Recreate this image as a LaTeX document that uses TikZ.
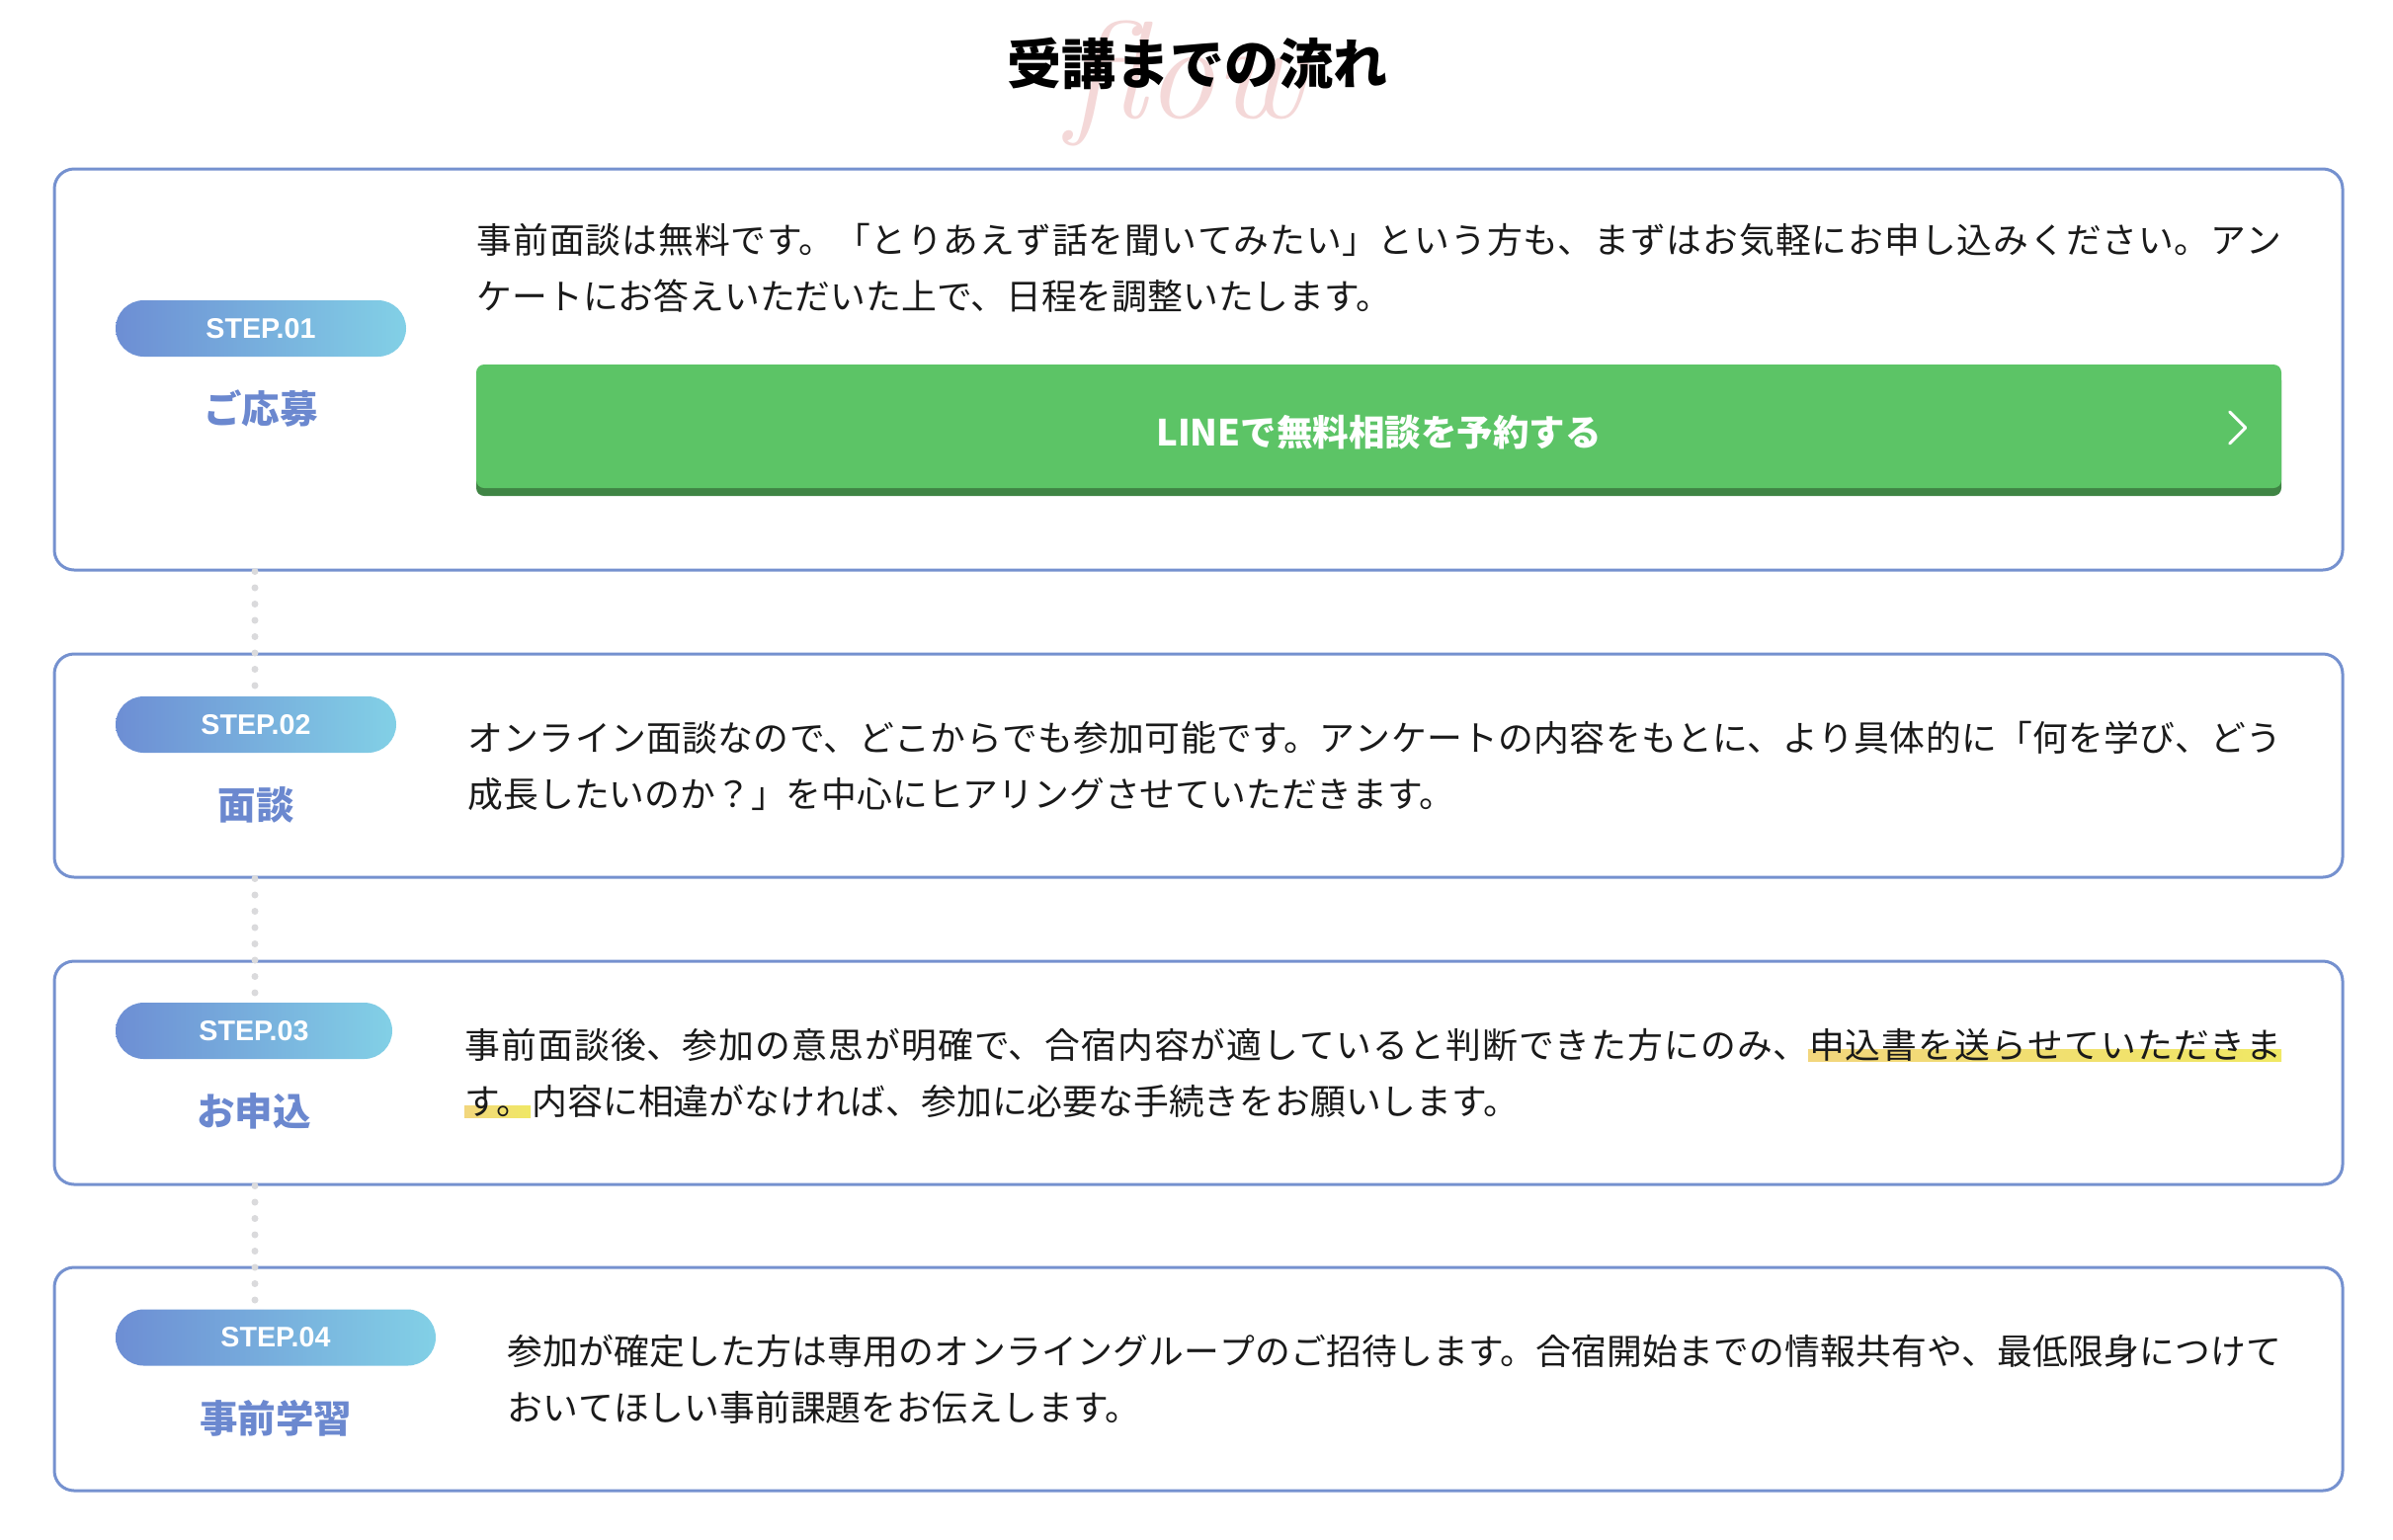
\documentclass[tikz,border=0pt]{standalone}
\usepackage{fontspec}
\usepackage{xcolor}
\usepackage{tikz}
\usetikzlibrary{positioning,shadows}
\setmainfont{Noto Sans CJK JP}
\newfontfamily\stepfont{Liberation Sans}
\newfontfamily\flowfont{Latin Modern Roman}
\XeTeXlinebreaklocale "ja"
\XeTeXlinebreakskip=0pt plus 1pt

\definecolor{cardblue}{RGB}{117,145,207}
\definecolor{badgeleft}{RGB}{109,142,212}
\definecolor{badgeright}{RGB}{130,208,230}
\definecolor{labelblue}{RGB}{107,136,207}
\definecolor{bodyblack}{RGB}{26,26,26}
\definecolor{dotgray}{RGB}{218,218,220}
\definecolor{linegreen}{RGB}{92,196,102}
\definecolor{linedark}{RGB}{63,132,68}
\definecolor{flowpink}{RGB}{244,216,216}
\definecolor{hlleft}{RGB}{242,214,125}
\definecolor{hlright}{RGB}{240,232,100}

\tikzset{
    card/.style={draw=cardblue, line width=0.9pt, rounded corners=6pt,
        minimum width=694.8pt, minimum height=#1, inner sep=0pt},
    badge/.style={left color=badgeleft, right color=badgeright,
        rounded corners=8.55pt, minimum width=#1, minimum height=17.1pt,
        inner sep=0pt, text=white, font=\stepfont\bfseries\fontsize{8.6}{8.6}\selectfont},
    steplabel/.style={anchor=base, inner sep=0pt, text=labelblue,
        font=\bfseries\fontsize{11.55}{13}\selectfont},
    bodytext/.style={anchor=base west, align=justify, text width=#1,
        inner sep=0pt, text=bodyblack, font=\fontsize{10.74}{17.1}\selectfont},
    dotline/.style={draw=dotgray, line width=2.1pt, line cap=round,
        dash pattern=on 0pt off 4.95pt},
    linebtn/.style={fill=linegreen, rounded corners=2.4pt, minimum width=548.1pt,
        minimum height=37.5pt, inner sep=0pt,
        drop shadow={shadow xshift=0pt, shadow yshift=-2.4pt, opacity=1, fill=linedark}},
    btntext/.style={inner sep=0pt, text=white, font=\bfseries\fontsize{10.95}{11}\selectfont},
    hlband/.style={left color=hlleft, right color=hlright}
}

\begin{document}
\begin{tikzpicture}[x=0.3pt, y=-0.3pt]
\useasboundingbox[fill=white] (0,0) rectangle (2422,1558);

% heading
\node[text=flowpink, font=\flowfont\itshape\fontsize{42}{42}\selectfont] (flow) at (1200,84) {flow};
\node[font=\bfseries\fontsize{16.5}{16.5}\selectfont] (title) at (1212,64) {受講までの流れ};

\coordinate (spine) at (258,0);

% cards
\node[card=121.8pt] (card1) at (1213,374) {};
\node[card=67.8pt] (card2) at (1213,775) {};
\node[card=67.8pt] (card3) at (1213,1086) {};
\node[card=67.8pt] (card4) at (1213,1396) {};

% badges
\node[badge=88.2pt] (badge1) at (264,332.5) {STEP.01};
\node[badge=85.2pt] (badge2) at (259,733.5) {STEP.02};
\node[badge=84pt] (badge3) at (257,1043.5) {STEP.03};
\node[badge=97.2pt] (badge4) at (279,1354) {STEP.04};

\draw[dotline] (card1.south -| spine) -- ([yshift=2pt]badge2.north -| spine);
\draw[dotline] (card2.south -| spine) -- ([yshift=2pt]badge3.north -| spine);
\draw[dotline] (card3.south -| spine) -- ([yshift=2pt]badge4.north -| spine);

\node[steplabel] (label1) at ([yshift=-20.1pt]badge1.south) {ご応募};
\node[steplabel] (label2) at ([yshift=-20.1pt]badge2.south) {面談};
\node[steplabel] (label3) at ([yshift=-20.1pt]badge3.south) {お申込};
\node[steplabel] (label4) at ([yshift=-20.1pt]badge4.south) {事前学習};

% texts
\node[bodytext=548.1pt] (text1) at (482,256) {事前面談は無料です。「とりあえず話を聞いてみたい」という方も、まずはお気軽にお申し込みください。アン\linebreak ケートにお答えいただいた上で、日程を調整いたします。};

\node[linebtn] (btn) at (1395.5,431.5) {};
\node[btntext] (btnlabel) at ([yshift=-1.8pt]btn.center) {LINEで無料相談を予約する};
\coordinate (chev) at ([xshift=-11.1pt, yshift=-0.45pt]btn.east);
\draw[white, line width=0.9pt, line cap=round, line join=round] ([shift={(-16,-16)}]chev) -- (chev) -- ([shift={(-16,16)}]chev);

\node[bodytext=550.8pt] (text2) at (473,760) {オンライン面談なので、どこからでも参加可能です。アンケートの内容をもとに、より具体的に「何を学び、どう\linebreak 成長したいのか？」を中心にヒアリングさせていただきます。};

\path[hlband] (1830,1062) rectangle (2309,1074);
\path[hlband] (470,1119) rectangle (537,1131);
\node[bodytext=551.7pt] (text3) at (470,1071) {事前面談後、参加の意思が明確で、合宿内容が適していると判断できた方にのみ、申込書を送らせていただきま\linebreak す。内容に相違がなければ、参加に必要な手続きをお願いします。};

\node[bodytext=538.8pt] (text4) at (513,1381) {参加が確定した方は専用のオンライングループのご招待します。合宿開始までの情報共有や、最低限身につけて\linebreak おいてほしい事前課題をお伝えします。};
\end{tikzpicture}
\end{document}
